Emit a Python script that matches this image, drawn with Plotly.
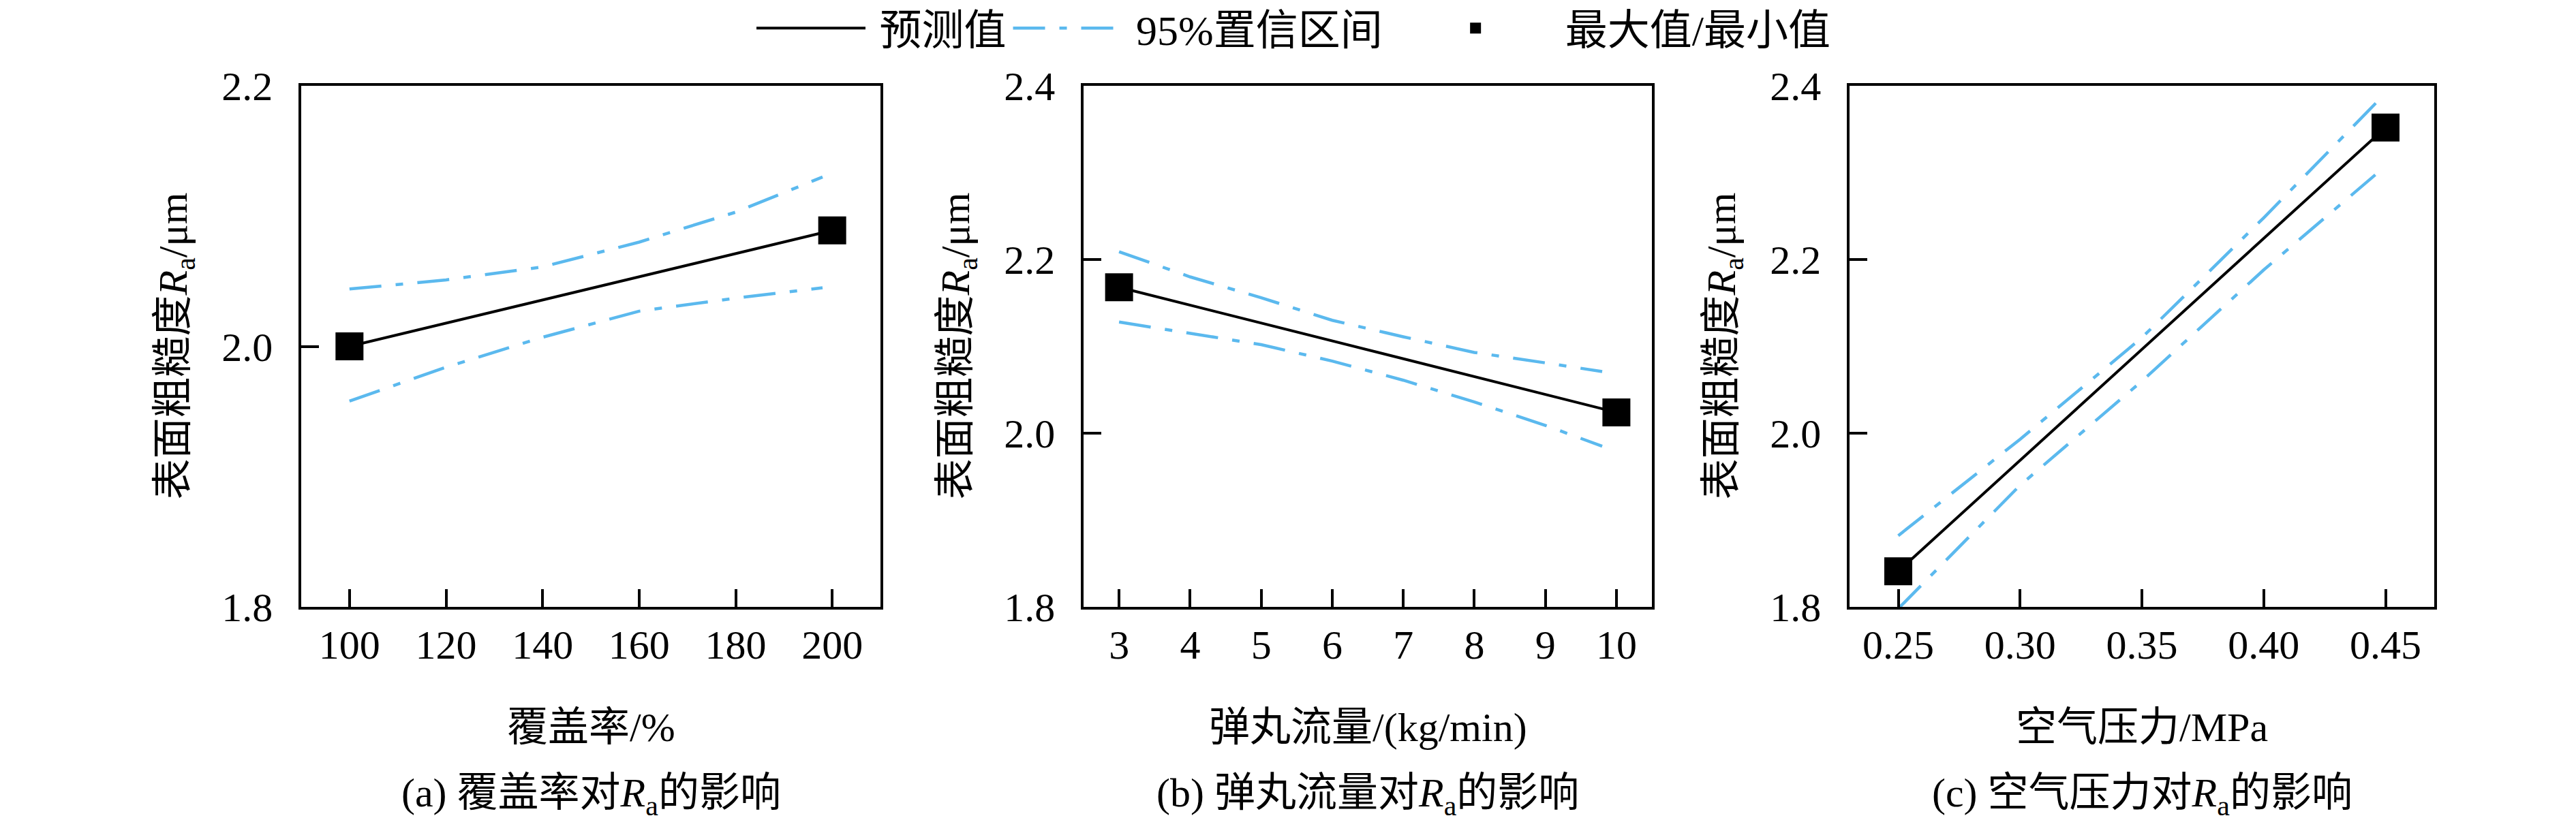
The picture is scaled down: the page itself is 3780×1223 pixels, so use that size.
import plotly.graph_objects as go

# panel (a) coverage
cov_x = [100, 200]
cov_pred = [2.000, 2.089]
cov_ci_x = [100, 120, 140, 160, 180, 198]
cov_upper = [2.044, 2.051, 2.061, 2.080, 2.103, 2.130]
cov_lower = [1.958, 1.984, 2.007, 2.027, 2.037, 2.045]

# panel (b) shot flow
flow_x = [3, 10]
flow_pred = [2.168, 2.024]
flow_ci_x = [3, 4, 5, 6, 7, 8, 9, 9.8]
flow_upper = [2.209, 2.180, 2.156, 2.130, 2.111, 2.093, 2.081, 2.071]
flow_lower = [2.128, 2.115, 2.102, 2.083, 2.061, 2.036, 2.009, 1.985]

# panel (c) air pressure
pres_x = [0.25, 0.45]
pres_pred = [1.841, 2.352]
pres_ci_x = [0.25, 0.30, 0.35, 0.40, 0.446]
pres_upper = [1.882, 1.993, 2.110, 2.248, 2.380]
pres_lower = [1.798, 1.940, 2.060, 2.188, 2.298]

legend_names = ["预测值", "95%置信区间", "最大值/最小值"]
x_titles = ["覆盖率/%", "弹丸流量/(kg/min)", "空气压力/MPa"]
captions = ["(a) 覆盖率对<i>R</i><sub>a</sub>的影响",
            "(b) 弹丸流量对<i>R</i><sub>a</sub>的影响",
            "(c) 空气压力对<i>R</i><sub>a</sub>的影响"]
y_title = "表面粗糙度<i>R</i><sub>a</sub>/μm"

BLUE = "#5BB9EE"
FONT = "Liberation Serif, Noto Sans CJK SC"
W, H = 3780, 1223
NB = "\u00a0"

panels = [
    (cov_x, cov_pred, cov_ci_x, cov_upper, cov_lower),
    (flow_x, flow_pred, flow_ci_x, flow_upper, flow_lower),
    (pres_x, pres_pred, pres_ci_x, pres_upper, pres_lower),
]
x_dom = [(434, 1284), (1582, 2416), (2706, 3564)]
y_dom = (1 - 883 / H, 1 - 118 / H)
x_ranges = [[90, 210], [2.5, 10.5], [0.23, 0.47]]
x_ticks = [[100, 120, 140, 160, 180, 200], list(range(3, 11)), [0.25, 0.30, 0.35, 0.40, 0.45]]
y_ranges = [[1.8, 2.2], [1.8, 2.4], [1.8, 2.4]]
y_ticks = [[1.8, 2.0, 2.2], [1.8, 2.0, 2.2, 2.4], [1.8, 2.0, 2.2, 2.4]]

fig = go.Figure()
dash = "47px,21px,11px,21px"

for i, (x, pred, cx, up, lo) in enumerate(panels):
    xa = "x" if i == 0 else f"x{i+1}"
    ya = "y" if i == 0 else f"y{i+1}"
    first = i == 0
    fig.add_trace(go.Scatter(x=cx, y=up, mode="lines", name=NB + legend_names[1] + NB * 3,
                             line=dict(color=BLUE, width=4.5, dash=dash),
                             xaxis=xa, yaxis=ya, showlegend=first, legendrank=2))
    fig.add_trace(go.Scatter(x=cx, y=lo, mode="lines", name=legend_names[1],
                             line=dict(color=BLUE, width=4.5, dash=dash),
                             xaxis=xa, yaxis=ya, showlegend=False))
    fig.add_trace(go.Scatter(x=x, y=pred, mode="lines", name=NB + legend_names[0],
                             line=dict(color="black", width=4),
                             xaxis=xa, yaxis=ya, showlegend=first, legendrank=1))
    fig.add_trace(go.Scatter(x=x, y=pred, mode="markers", name=NB * 3 + legend_names[2],
                             marker=dict(symbol="square", size=41, color="black"),
                             xaxis=xa, yaxis=ya, showlegend=first, legendrank=3))

layout = dict(
    width=W, height=H,
    margin=dict(l=0, r=0, t=0, b=0, autoexpand=False),
    paper_bgcolor="white", plot_bgcolor="white",
    font=dict(family=FONT, size=60, color="black"),
    showlegend=True,
    legend=dict(orientation="h", x=0.5, xanchor="center", y=1.011, yanchor="top",
                font=dict(size=62), itemwidth=160, bgcolor="rgba(0,0,0,0)",
                tracegroupgap=0),
)

annotations = []
for i in range(3):
    sfx = "" if i == 0 else str(i + 1)
    x0, x1 = x_dom[i]
    axis_common = dict(
        showline=True, linecolor="black", linewidth=3.5, mirror=True,
        ticks="inside", ticklen=26, tickwidth=4, tickcolor="black",
        showgrid=False, zeroline=False, tickfont=dict(size=60),
    )
    layout[f"xaxis{sfx}"] = dict(
        domain=[x0 / W, x1 / W], range=x_ranges[i], tickvals=x_ticks[i],
        tickformat=".2f" if i == 2 else "d",
        anchor=f"y{sfx}", ticklabelstandoff=0, **axis_common,
    )
    layout[f"yaxis{sfx}"] = dict(
        domain=list(y_dom), range=y_ranges[i], tickvals=y_ticks[i], tickformat=".1f",
        anchor=f"x{sfx}", ticklabelstandoff=26, **axis_common,
    )
    cx_paper = (x0 + x1) / 2 / W
    annotations.append(dict(text=x_titles[i], xref="paper", yref="paper",
                            x=cx_paper, y=1 - 1060 / H, xanchor="center", yanchor="middle",
                            showarrow=False, font=dict(size=60)))
    annotations.append(dict(text=captions[i], xref="paper", yref="paper",
                            x=cx_paper, y=1 - 1160 / H, xanchor="center", yanchor="middle",
                            showarrow=False, font=dict(size=60)))
    annotations.append(dict(text=y_title, xref="paper", yref="paper",
                            x=(x0 - 184) / W, y=(y_dom[0] + y_dom[1]) / 2,
                            xanchor="center", yanchor="middle", textangle=-90,
                            showarrow=False, font=dict(size=60)))

layout["annotations"] = annotations
fig.update_layout(**layout)

fig.write_html("out.html")
